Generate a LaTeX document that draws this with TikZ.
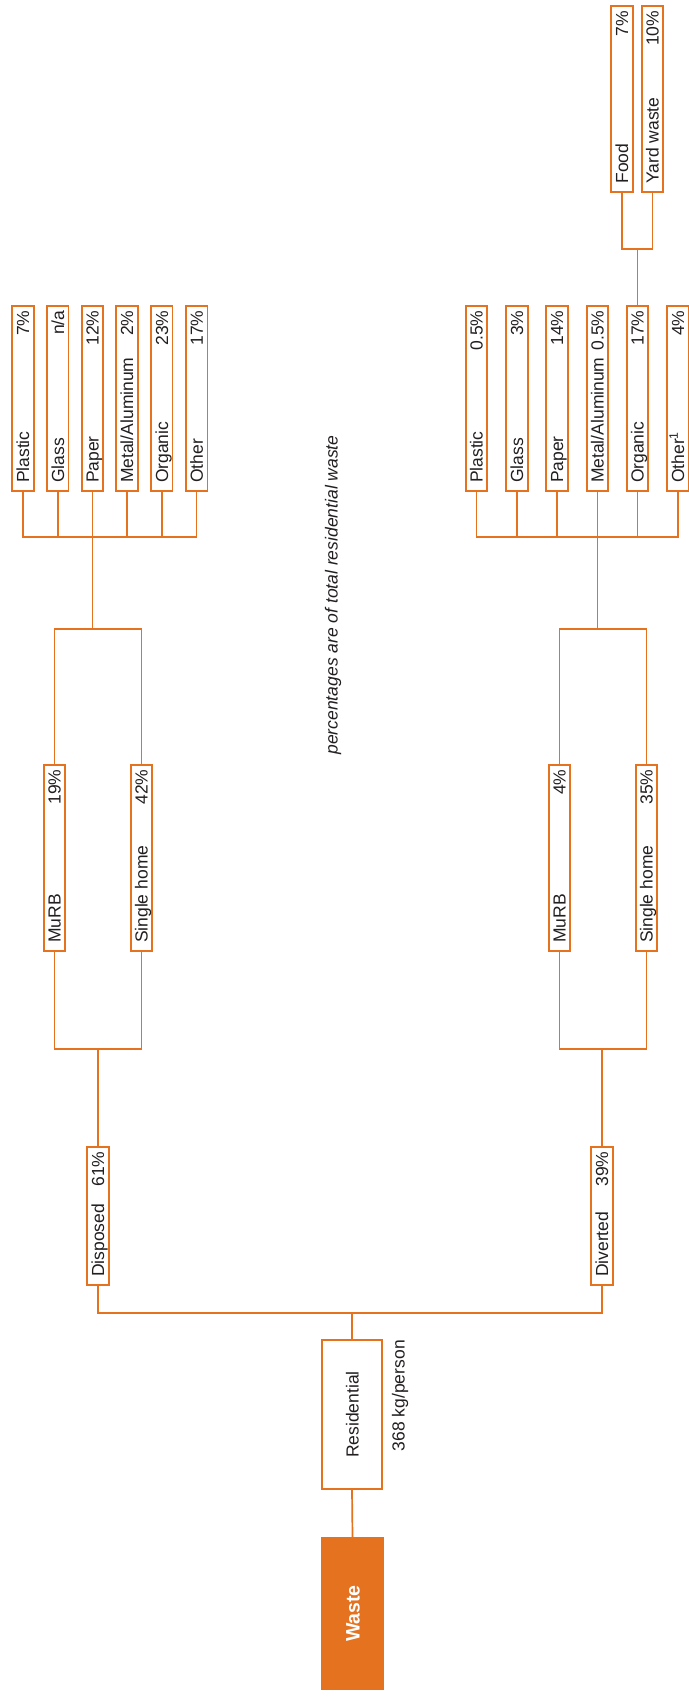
\documentclass[tikz,border=0pt]{standalone}
\usepackage{fontspec}
\setmainfont{Liberation Sans}
\usetikzlibrary{calc}
\definecolor{oc}{RGB}{229,114,31}
\definecolor{tc}{RGB}{35,31,32}
\newcommand{\fsz}{\fontsize{17.5}{20}\selectfont}
\newcommand{\boxtext}[3]{%
  \node[lbl] (#1-l) at ($(#1.south)+(6.2,-9)$) {#2};
  \node[pct] (#1-p) at ($(#1.north)+(6.2,5.5)$) {#3};}
\begin{document}
\begin{tikzpicture}[x=1pt,y=-1pt,
  conn/.style={draw=oc, line width=1.7pt},
  box/.style={draw=oc, line width=1.7pt, fill=white, inner sep=0pt, minimum width=21.5pt},
  leaf/.style={box, minimum height=185.5pt},
  midbox/.style={box, minimum height=186.5pt},
  lbl/.style={rotate=90, anchor=base west, inner sep=0pt, font=\fsz, text=tc},
  pct/.style={rotate=90, anchor=base east, inner sep=0pt, font=\fsz, text=tc},
]
\useasboundingbox (0,0) rectangle (688,1697);

% ---------- main stem ----------
\node[fill=oc, inner sep=0pt, minimum width=63pt, minimum height=153pt] (waste) at (352.5,1613.5) {};
\node[rotate=90, anchor=base, inner sep=0pt, font=\fontsize{19.5}{22}\selectfont\bfseries, text=white] (waste-t) at (359.5,1613.5) {Waste};
\node[box, minimum width=60.5pt, minimum height=149.5pt] (res) at (352,1414.5) {};
\node[rotate=90, anchor=base, inner sep=0pt, font=\fsz, text=tc] (res-t) at (358.5,1414.5) {Residential};
\node[rotate=90, anchor=base east, inner sep=0pt, font=\fsz, text=tc] (res-kg) at (404.5,1340) {368 kg/person};

\node[box, minimum height=138.5pt] (dis) at (98,1216) {};
\boxtext{dis}{Disposed}{61\%}
\node[box, minimum height=138.5pt] (div) at (602,1216) {};
\boxtext{div}{Diverted}{39\%}

% ---------- disposed branch ----------
\node[midbox] (dMu) at (54.5,858) {};
\boxtext{dMu}{MuRB}{19\%}
\node[midbox] (dSi) at (141.5,858) {};
\boxtext{dSi}{Single home}{42\%}

\node[leaf] (dPl) at (23,398.5) {};
\boxtext{dPl}{Plastic}{7\%}
\node[leaf] (dGl) at (57.8,398.5) {};
\boxtext{dGl}{Glass}{n/a}
\node[leaf] (dPa) at (92.4,398.5) {};
\boxtext{dPa}{Paper}{12\%}
\node[leaf] (dMe) at (127,398.5) {};
\boxtext{dMe}{Metal/Aluminum}{2\%}
\node[leaf] (dOr) at (161.8,398.5) {};
\boxtext{dOr}{Organic}{23\%}
\node[leaf] (dOt) at (196.6,398.5) {};
\boxtext{dOt}{Other}{17\%}

% ---------- diverted branch ----------
\node[midbox] (rMu) at (559.5,858) {};
\boxtext{rMu}{MuRB}{4\%}
\node[midbox] (rSi) at (646.5,858) {};
\boxtext{rSi}{Single home}{35\%}

\node[leaf] (rPl) at (476.5,398.5) {};
\boxtext{rPl}{Plastic}{0.5\%}
\node[leaf] (rGl) at (517,398.5) {};
\boxtext{rGl}{Glass}{3\%}
\node[leaf] (rPa) at (557,398.5) {};
\boxtext{rPa}{Paper}{14\%}
\node[leaf] (rMe) at (597.5,398.5) {};
\boxtext{rMe}{Metal/Aluminum}{0.5\%}
\node[leaf] (rOr) at (637.5,398.5) {};
\boxtext{rOr}{Organic}{17\%}
\node[leaf] (rOt) at (678,398.5) {};
\boxtext{rOt}{Other\textsuperscript{1}}{4\%}

\node[box, minimum height=186pt] (food) at (622,99) {};
\boxtext{food}{Food}{7\%}
\node[box, minimum height=186pt] (yard) at (652.5,99) {};
\boxtext{yard}{Yard waste}{10\%}

% ---------- note ----------
\node[rotate=90, anchor=base, inner sep=0pt, font=\fsz\itshape, text=tc] (note) at (337.5,595) {percentages are of total residential waste};

% ---------- connectors ----------
\coordinate (mB) at (352,1313);
\draw[conn] (res.south) -- (waste.north);
\draw[conn] (mB) -- (res.north);
\draw[conn] (dis.south) -- (dis.south |- mB) -- (div.south |- mB) -- (div.south);

% disposed
\coordinate (dB2) at (98,1049);
\draw[conn] (dMu.south) -- (dMu.south |- dB2) -- (dSi.south |- dB2) -- (dSi.south);
\draw[conn] (dB2) -- (dis.north);
\coordinate (dB1) at (92.4,629);
\draw[conn] (dMu.north) -- (dMu.north |- dB1) -- (dSi.north |- dB1) -- (dSi.north);
\coordinate (dJ) at (92.4,537);
\draw[conn] (dB1) -- (dJ);
\draw[conn] (dPl.south) -- (dPl.south |- dJ) -- (dOt.south |- dJ) -- (dOt.south);
\foreach \n in {dGl,dPa,dMe,dOr} \draw[conn] (\n.south) -- (\n.south |- dJ);

% diverted
\coordinate (rB2) at (602,1049);
\draw[conn] (rMu.south) -- (rMu.south |- rB2) -- (rSi.south |- rB2) -- (rSi.south);
\draw[conn] (rB2) -- (div.north);
\coordinate (rB1) at (597.5,629);
\draw[conn] (rMu.north) -- (rMu.north |- rB1) -- (rSi.north |- rB1) -- (rSi.north);
\coordinate (rJ) at (597.5,537);
\draw[conn] (rB1) -- (rJ);
\draw[conn] (rPl.south) -- (rPl.south |- rJ) -- (rOt.south |- rJ) -- (rOt.south);
\foreach \n in {rGl,rPa,rMe,rOr} \draw[conn] (\n.south) -- (\n.south |- rJ);

% organic split
\coordinate (fJ) at (637.5,249);
\draw[conn] (food.south) -- (food.south |- fJ) -- (yard.south |- fJ) -- (yard.south);
\draw[conn] (fJ) -- (rOr.north);
\end{tikzpicture}
\end{document}
